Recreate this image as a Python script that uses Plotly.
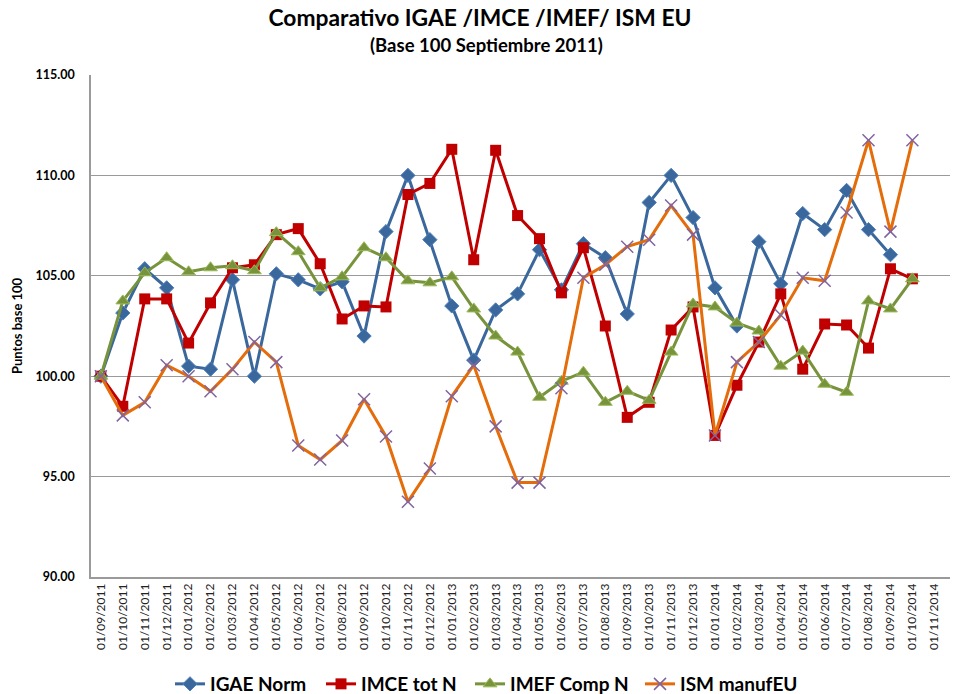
"""
Comparativo IGAE / IMCE / IMEF / ISM EU, base 100 septiembre 2011
"""
import plotly.graph_objects as go

fechas = [
    "01/09/2011", "01/10/2011", "01/11/2011", "01/12/2011",
    "01/01/2012", "01/02/2012", "01/03/2012", "01/04/2012", "01/05/2012", "01/06/2012",
    "01/07/2012", "01/08/2012", "01/09/2012", "01/10/2012", "01/11/2012", "01/12/2012",
    "01/01/2013", "01/02/2013", "01/03/2013", "01/04/2013", "01/05/2013", "01/06/2013",
    "01/07/2013", "01/08/2013", "01/09/2013", "01/10/2013", "01/11/2013", "01/12/2013",
    "01/01/2014", "01/02/2014", "01/03/2014", "01/04/2014", "01/05/2014", "01/06/2014",
    "01/07/2014", "01/08/2014", "01/09/2014", "01/10/2014", "01/11/2014", "01/12/2014",
]

igae_norm = [
    100.0, 103.15, 105.35, 104.4, 100.5, 100.35, 104.8, 100.0, 105.1, 104.8,
    104.35, 104.7, 102.0, 107.2, 110.0, 106.8, 103.5, 100.8, 103.3, 104.1,
    106.3, 104.3, 106.6, 105.9, 103.1, 108.65, 110.0, 107.9, 104.4, 102.5,
    106.7, 104.6, 108.1, 107.3, 109.25, 107.3, 106.05, None, None, None,
]
imce_tot = [
    100.0, 98.5, 103.85, 103.85, 101.65, 103.65, 105.4, 105.55, 107.05, 107.35,
    105.6, 102.85, 103.5, 103.45, 109.05, 109.6, 111.3, 105.8, 111.25, 108.0,
    106.85, 104.15, 106.4, 102.5, 97.95, 98.7, 102.3, 103.45, 97.05, 99.55,
    101.7, 104.1, 100.35, 102.6, 102.55, 101.4, 105.35, 104.85, None, None,
]
imef_comp = [
    100.0, 103.75, 105.15, 105.9, 105.2, 105.4, 105.5, 105.25, 107.15, 106.2,
    104.4, 104.95, 106.4, 105.9, 104.75, 104.65, 104.95, 103.35, 102.0, 101.2,
    98.95, 99.75, 100.2, 98.7, 99.25, 98.8, 101.2, 103.6, 103.45, 102.65,
    102.25, 100.5, 101.25, 99.6, 99.2, 103.75, 103.35, 104.85, None, None,
]
ism_manuf = [
    100.0, 98.05, 98.7, 100.55, 100.0, 99.25, 100.35, 101.7, 100.7, 96.55,
    95.85, 96.8, 98.85, 97.0, 93.75, 95.4, 99.0, 100.55, 97.5, 94.7,
    94.7, 99.4, 104.9, 105.55, 106.45, 106.8, 108.5, 107.05, 97.05, 100.7,
    101.7, 103.05, 104.9, 104.75, 108.15, 111.75, 107.2, 111.75, None, None,
]

FONT = "Lato"
# the page body has an 8px margin, so the figure is 8px smaller than the window
W, H = 950, 686
L, T, B = 83, 67, 117
PLOT_W = W - L
PLOT_H = H - T - B
LEG_Y = -(676 - (H - B)) / PLOT_H

fig = go.Figure()

# IGAE
fig.add_trace(go.Scatter(
    x=fechas, y=igae_norm, mode="lines+markers", name="IGAE Norm",
    line=dict(color="#3A679C", width=3),
    marker=dict(symbol="diamond", size=11, color="#3A679C",
                line=dict(color="#4F81BD", width=1)),
    legend="legend",
))
# IMCE
fig.add_trace(go.Scatter(
    x=fechas, y=imce_tot, mode="lines+markers", name="IMCE tot N",
    line=dict(color="#C00000", width=3),
    marker=dict(symbol="square", size=11, color="#C00000"),
    legend="legend2",
))
# IMEF
fig.add_trace(go.Scatter(
    x=fechas, y=imef_comp, mode="lines+markers", name="IMEF Comp N",
    line=dict(color="#77933C", width=3),
    marker=dict(symbol="triangle-up", size=12, color="#77933C",
                line=dict(color="#9BBB59", width=1)),
    legend="legend3",
))
# ISM
fig.add_trace(go.Scatter(
    x=fechas, y=ism_manuf, mode="lines+markers", name="ISM manufEU",
    line=dict(color="#E46C0A", width=3),
    marker=dict(symbol="x-thin-open", size=12, color="#8064A2",
                line=dict(color="#8064A2", width=1.5)),
    legend="legend4",
))


def leyenda(x_px):
    return dict(orientation="h", x=(x_px - 8 - L) / PLOT_W, xanchor="left",
                y=LEG_Y, yanchor="middle", bgcolor="rgba(0,0,0,0)",
                font=dict(size=19, family=FONT, color="black", weight="bold"),
                itemwidth=30)


fig.update_layout(
    width=W, height=H,
    template="plotly_white",
    plot_bgcolor="white", paper_bgcolor="white",
    font=dict(family=FONT, color="black"),
    margin=dict(l=L, r=0, t=T, b=B, autoexpand=False),
    title=dict(text="<b>Comparativo IGAE /IMCE /IMEF/ ISM EU</b>",
               x=472 / W, xref="container", xanchor="center",
               y=1 - 10 / H, yref="container", yanchor="middle",
               font=dict(size=22.8, family=FONT, color="black")),
    showlegend=True,
    legend=leyenda(170),
    legend2=leyenda(321),
    legend3=leyenda(470),
    legend4=leyenda(640),
)
fig.add_annotation(text="<b>(Base 100 Septiembre 2011)</b>",
                   xref="paper", yref="paper", x=(478 - L) / PLOT_W, y=1 + 30 / PLOT_H,
                   showarrow=False, xanchor="center", yanchor="middle",
                   font=dict(size=18.5, family=FONT, color="black"))
fig.add_annotation(text="<b>Puntos base 100</b>", textangle=-90,
                   xref="paper", yref="paper", x=(9 - L) / PLOT_W, y=0.5,
                   showarrow=False, xanchor="center", yanchor="middle",
                   font=dict(size=13, family=FONT, color="black"))

fig.update_xaxes(
    type="category", range=[-0.45, 39.08], automargin=False,
    tickangle=-90, tickfont=dict(size=12, family=FONT, color="#222"),
    showgrid=False, showline=True, linecolor="#9A9A9A", linewidth=1.5,
    ticks="", zeroline=False,
)
fig.update_yaxes(
    range=[90, 115], dtick=5, tickformat=".2f", automargin=False,
    tickfont=dict(size=12.5, family=FONT, color="black", weight="bold"),
    showgrid=True, gridcolor="#9A9A9A", gridwidth=1.2,
    showline=True, linecolor="#9A9A9A", linewidth=1.5, mirror=True,
    zeroline=False, ticks="", ticklabelstandoff=12,
)

fig.write_html("out.html")
